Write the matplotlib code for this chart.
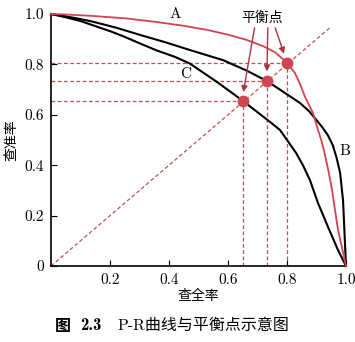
import matplotlib
matplotlib.use("Agg")
import matplotlib.pyplot as plt

# P-R curves (recall, precision)
recall_a = [0, 0.05, 0.132, 0.25, 0.36, 0.45, 0.529, 0.60, 0.664, 0.72, 0.76, 0.80, 0.827,
            0.845, 0.861, 0.888, 0.905, 0.916, 0.925, 0.94, 0.953, 0.963, 0.973, 0.987, 1.0]
prec_a = [1.0, 0.998, 0.993, 0.983, 0.968, 0.953, 0.937, 0.918, 0.897, 0.872, 0.848, 0.806, 0.766,
          0.72, 0.671, 0.607, 0.54, 0.50, 0.46, 0.38, 0.30, 0.22, 0.143, 0.07, 0.0]

recall_b = [0, 0.04, 0.09, 0.14, 0.22, 0.302, 0.39, 0.471, 0.583, 0.664, 0.732, 0.776, 0.844,
            0.875, 0.90, 0.92, 0.938, 0.955, 0.968, 0.98, 0.99, 0.995, 1.0]
prec_b = [1.0, 0.993, 0.982, 0.97, 0.946, 0.917, 0.887, 0.857, 0.817, 0.775, 0.734, 0.70, 0.647,
          0.614, 0.579, 0.55, 0.52, 0.48, 0.43, 0.37, 0.26, 0.13, 0.0]

recall_c = [0, 0.05, 0.10, 0.15, 0.20, 0.244, 0.30, 0.359, 0.42, 0.471, 0.563, 0.651, 0.742,
            0.776, 0.83, 0.854, 0.878, 0.905, 0.939, 0.973, 1.0]
prec_c = [1.0, 0.987, 0.972, 0.952, 0.932, 0.912, 0.884, 0.855, 0.83, 0.803, 0.73, 0.655, 0.572,
          0.54, 0.45, 0.40, 0.34, 0.25, 0.155, 0.063, 0.0]

# break-even points
bep_x = [0.651, 0.732, 0.80]
bep_y = [0.655, 0.734, 0.806]

x_ticks = [0.2, 0.4, 0.6, 0.8, 1.0]
x_labels = ["0.2", "0.4", "0.6", "0.8", "1.0"]
y_ticks = [0, 0.2, 0.4, 0.6, 0.8, 1.0]
y_labels = ["0", "0.2", "0.4", "0.6", "0.8", "1.0"]

red = "#d0454f"
dash_red = "#c0504f"
num_font = ["cmr10", "DejaVu Serif"]
cjk = ["Noto Sans CJK SC", "DejaVu Sans"]

fig = plt.figure(figsize=(3.55, 3.42), dpi=100)
ax = fig.add_axes([51 / 355, 76 / 342, 295 / 355, 252 / 342])

# diagonal and guide lines
dash_kw = dict(color=dash_red, lw=0.9, dashes=(3, 2), zorder=1)
ax.plot([0, 0.95], [0, 0.95], **dash_kw)
for bx, by in zip(bep_x, bep_y):
    ax.plot([0, bx], [by, by], **dash_kw)
    ax.plot([bx, bx], [0, by], **dash_kw)

ax.plot(recall_a, prec_a, color=red, lw=1.3, zorder=3, clip_on=False, solid_joinstyle="round")
ax.plot(recall_b, prec_b, color="black", lw=1.5, zorder=2, clip_on=False, solid_joinstyle="round")
ax.plot(recall_c, prec_c, color="black", lw=1.5, zorder=2, clip_on=False, solid_joinstyle="round")
ax.plot(bep_x, bep_y, "o", color=red, ms=7.5, mec=red, zorder=4)

ax.text(0.42, 0.998, "A", family=num_font, fontsize=11, ha="center", va="center")
ax.text(0.455, 0.76, "C", family=num_font, fontsize=11, ha="center", va="center")
ax.text(0.995, 0.455, "B", family=num_font, fontsize=11, ha="center", va="center")

# "平衡点" annotation with three arrows
ax.text(0.715, 0.985, "平衡点", family=cjk, fontsize=10, ha="center", va="center")
starts = [(0.69, 0.945), (0.735, 0.945), (0.76, 0.945)]
ends = [(0.652, 0.69), (0.732, 0.772), (0.79, 0.842)]
for (sx, sy), (ex, ey) in zip(starts, ends):
    ax.annotate("", xy=(ex, ey), xytext=(sx, sy),
                arrowprops=dict(arrowstyle="-|>", color="#a8373d", lw=1.0,
                                mutation_scale=9, shrinkA=0, shrinkB=0))

ax.set_xlim(0, 1)
ax.set_ylim(0, 1)
ax.spines["top"].set_visible(False)
ax.spines["right"].set_visible(False)
ax.spines["left"].set_linewidth(1.2)
ax.spines["bottom"].set_linewidth(1.2)
ax.set_xticks(x_ticks)
ax.set_xticklabels(x_labels, family=num_font, fontsize=11)
ax.set_yticks(y_ticks)
ax.set_yticklabels(y_labels, family=num_font, fontsize=11)
ax.tick_params(direction="in", length=4, width=0.8, pad=5)

ax.set_xlabel("查全率", family=cjk, fontsize=10, labelpad=2)
ax.set_ylabel("查准率", family=cjk, fontsize=10, labelpad=4)

fig.text(55 / 355, 1 - 326 / 342, "图", family=cjk, fontsize=11.5, fontweight="bold", va="center")
fig.text(80 / 355, 1 - 326 / 342, "2.3", family=["cmb10", "DejaVu Serif"], fontsize=12, va="center")
fig.text(118 / 355, 1 - 326 / 342, "P-R曲线与平衡点示意图", family=num_font + cjk, fontsize=11.5, va="center")

fig.savefig("out.png", dpi=100)
